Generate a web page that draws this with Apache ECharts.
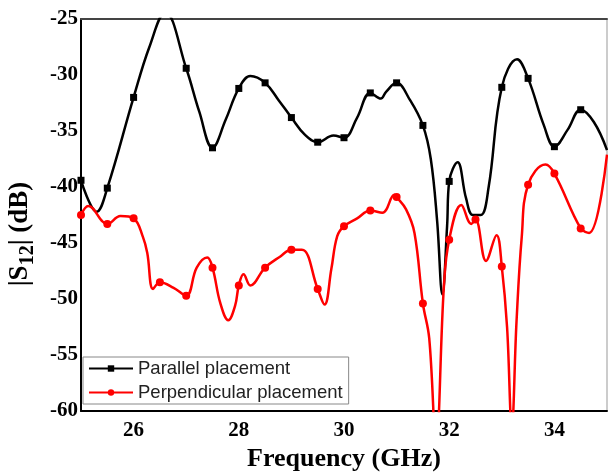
<!DOCTYPE html>
<html>
<head>
<meta charset="utf-8">
<script src="https://cdn.jsdelivr.net/npm/echarts@6/dist/echarts.min.js"></script>
<style>
  html, body { margin: 0; padding: 0; background: #fff; }
  #chart { width: 608px; height: 472px; }
</style>
</head>
<body>
<div id="chart"></div>
<script>
// curve points, GHz / dB
const parallelFreq = [25.0, 25.3, 25.5, 26.0, 26.3, 26.6, 27.0, 27.25, 27.5, 27.75, 28.0, 28.22, 28.5, 28.75, 29.0, 29.25, 29.5, 29.8, 30.0, 30.25, 30.5, 30.7, 30.8, 31.0, 31.25, 31.5, 31.65, 31.77, 31.87, 31.96, 32.0, 32.16, 32.32, 32.45, 32.6, 32.75, 33.0, 33.29, 33.5, 33.8, 34.0, 34.25, 34.5, 34.75, 35.0];
const parallelDb = [-39.4, -42.2, -40.1, -32.0, -27.5, -24.4, -29.4, -33.3, -36.5, -34.0, -31.2, -30.1, -30.7, -32.2, -33.8, -35.3, -36.0, -35.4, -35.6, -33.8, -31.6, -32.1, -31.5, -30.7, -32.2, -34.5, -37.5, -43.0, -49.6, -43.5, -39.5, -37.8, -41.0, -42.5, -42.5, -40.0, -31.1, -28.6, -30.3, -34.5, -36.4, -34.9, -33.1, -34.2, -36.7];

const perpFreq = [25.0, 25.14, 25.5, 25.75, 26.0, 26.18, 26.26, 26.37, 26.5, 26.76, 27.0, 27.2, 27.4, 27.5, 27.65, 27.8, 27.93, 28.0, 28.09, 28.22, 28.5, 28.79, 29.0, 29.2, 29.5, 29.63, 29.76, 29.87, 30.0, 30.25, 30.5, 30.73, 30.96, 31.0, 31.18, 31.34, 31.5, 31.62, 31.75, 31.9, 32.0, 32.23, 32.42, 32.5, 32.7, 32.9, 33.0, 33.1, 33.19, 33.28, 33.38, 33.5, 33.83, 34.0, 34.5, 34.66, 35.0];
const perpDb = [-42.5, -41.7, -43.3, -42.6, -42.8, -44.5, -45.9, -49.1, -48.5, -49.0, -49.7, -47.2, -46.3, -47.2, -50.4, -51.9, -50.6, -48.8, -47.8, -48.8, -47.2, -46.2, -45.6, -45.6, -49.1, -50.5, -47.3, -44.4, -43.5, -42.8, -42.1, -42.3, -40.7, -40.9, -42.0, -44.1, -50.4, -53.5, -63.0, -48.8, -44.7, -41.6, -43.3, -42.9, -46.6, -44.3, -47.1, -52.5, -61.5, -52.0, -44.4, -39.8, -38.0, -38.8, -43.7, -44.1, -37.1];

// markers sit every 0.5 GHz
const markerFreqs = [25.0, 25.5, 26.0, 26.5, 27.0, 27.5, 28.0, 28.5, 29.0, 29.5, 30.0, 30.5, 31.0, 31.5, 32.0, 32.5, 33.0, 33.5, 34.0, 34.5];

const yTicks = [-60, -55, -50, -45, -40, -35, -30, -25];
const xTicks = [26, 28, 30, 32, 34];

function buildData(freqs, vals) {
  return freqs.map((f, i) => {
    const item = { value: [f, vals[i]] };
    if (!markerFreqs.includes(f)) item.symbol = 'none';
    return item;
  });
}

const chart = echarts.init(document.getElementById('chart'));
const serif = '"Liberation Serif", "Times New Roman", serif';

const option = {
  backgroundColor: '#fff',
  animation: false,
  grid: {
    left: 81, right: 1, top: 19, bottom: 61,
    outerBoundsMode: 'none',
    containLabel: false,
    show: true, borderColor: '#999', borderWidth: 1
  },
  legend: {
    orient: 'vertical',
    left: 83, top: 357,
    itemWidth: 44, itemHeight: 8, itemGap: 5,
    padding: [2, 6, 2, 5],
    backgroundColor: '#fff',
    borderColor: '#888', borderWidth: 1,
    textStyle: { fontFamily: '"Liberation Sans", Arial, sans-serif', fontSize: 18.5, color: '#222' },
    data: ['Parallel placement', 'Perpendicular placement']
  },
  xAxis: [{
    type: 'value',
    min: 25, max: 35, interval: 1,
    name: 'Frequency (GHz)',
    nameLocation: 'middle',
    nameGap: 35,
    nameTextStyle: { fontFamily: serif, fontWeight: 'bold', fontSize: 26, color: '#000' },
    axisLine: { lineStyle: { color: '#000', width: 2 } },
    axisTick: { show: false },
    splitLine: { show: false },
    axisLabel: {
      margin: 9,
      fontFamily: serif, fontWeight: 'bold', fontSize: 21, color: '#000',
      formatter: v => xTicks.includes(v) ? String(v) : ''
    }
  }, {
    type: 'value', position: 'top',
    min: 25, max: 35,
    axisLine: { onZero: false, lineStyle: { color: '#444', width: 2 } },
    axisTick: { show: false }, axisLabel: { show: false }, splitLine: { show: false }
  }],
  yAxis: {
    type: 'value',
    min: -60, max: -25, interval: 5,
    name: '{a||S}{b|12}{a|| (dB)}',
    nameLocation: 'middle',
    nameRotate: 90,
    nameGap: 47,
    nameTextStyle: {
      padding: [0, 38, 0, 0],
      rich: {
        a: { fontFamily: serif, fontWeight: 'bold', fontSize: 27, color: '#000', lineHeight: 28, verticalAlign: 'bottom' },
        b: { fontFamily: serif, fontWeight: 'bold', fontSize: 20, color: '#000', lineHeight: 28, verticalAlign: 'bottom', padding: [0, 0, -4, 0] }
      }
    },
    axisLine: { show: true, lineStyle: { color: '#000', width: 2 } },
    axisTick: { show: false },
    splitLine: { show: false },
    axisLabel: {
      margin: 3,
      fontFamily: serif, fontWeight: 'bold', fontSize: 21, color: '#000',
      formatter: v => yTicks.includes(v) ? String(v) : ''
    }
  },
  series: [
    {
      name: 'Parallel placement',
      type: 'line',
      smooth: 0.4,
      symbol: 'rect', symbolSize: 7,
      showAllSymbol: true,
      clip: true,
      itemStyle: { color: '#000' },
      lineStyle: { color: '#000', width: 2.5 },
      data: buildData(parallelFreq, parallelDb)
    },
    {
      name: 'Perpendicular placement',
      type: 'line',
      smooth: 0.4,
      symbol: 'circle', symbolSize: 8,
      showAllSymbol: true,
      clip: true,
      itemStyle: { color: '#f00' },
      lineStyle: { color: '#f00', width: 2.5 },
      data: buildData(perpFreq, perpDb)
    }
  ]
};

chart.setOption(option);
</script>
</body>
</html>
